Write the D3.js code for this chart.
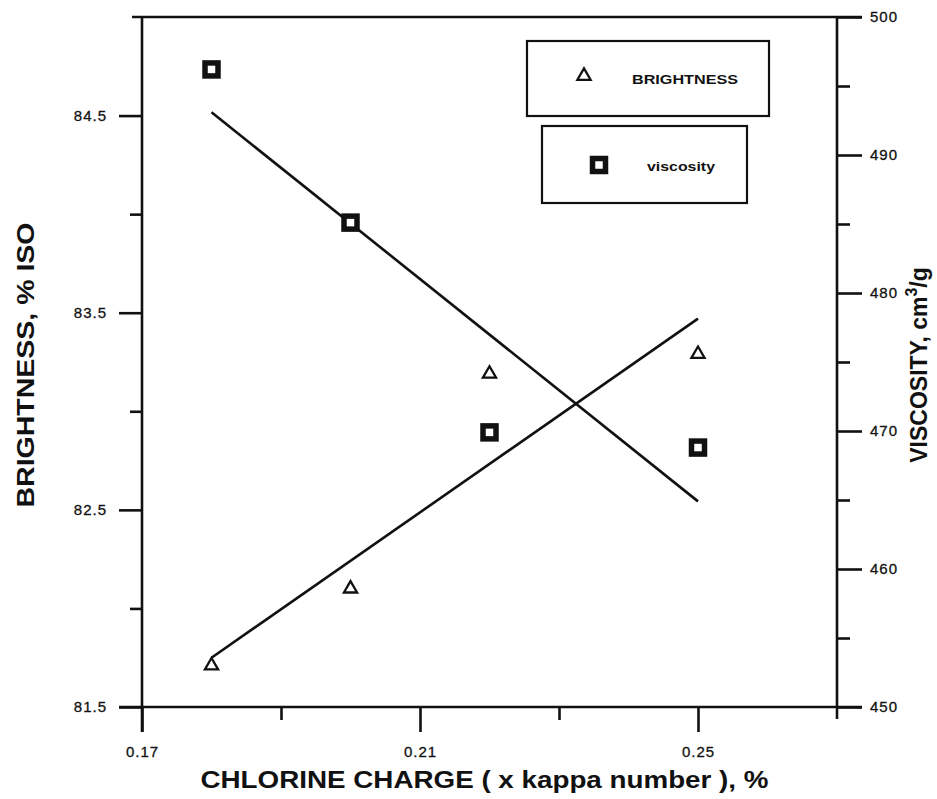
<!DOCTYPE html>
<html>
<head>
<meta charset="utf-8">
<script src="https://cdn.jsdelivr.net/npm/d3@7"></script>
<style>
  html, body { margin: 0; padding: 0; background: #fff; }
  svg { display: block; }
  text { font-family: "Liberation Sans", Arial, Helvetica, sans-serif; fill: #111; }
</style>
</head>
<body>
<svg id="chart" width="937" height="799"></svg>
<script>
// ---- data ----
const chlorineCharge = [0.18, 0.20, 0.22, 0.25];
const brightness = [81.71, 82.10, 83.19, 83.29];
const viscosity = [496.2, 485.1, 469.9, 468.8];
const fitX = [0.18, 0.25];
const brightnessFit = [81.75, 83.47];
const viscosityFit = [493.1, 464.9];
const xTickLabels = [0.17, 0.21, 0.25];
const xMinorTicks = [0.19, 0.23];
const leftTickLabels = [81.5, 82.5, 83.5, 84.5];
const leftMinorTicks = [82.0, 83.0, 84.0];
const rightTickLabels = [450, 460, 470, 480, 490, 500];
const rightMinorTicks = [455, 465, 475, 485, 495];

const svg = d3.select("#chart");
const L = 142, R = 837, T = 17, B = 707;
const x = d3.scaleLinear().domain([0.17, 0.27]).range([L, R]);
const yL = d3.scaleLinear().domain([81.5, 85]).range([B, T]);
const yR = d3.scaleLinear().domain([450, 500]).range([B, T]);

const ink = "#111";

// frame
const frame = svg.append("g").attr("stroke", ink).attr("stroke-width", 2.6).attr("fill", "none");
frame.append("line").attr("x1", L - 10).attr("x2", R + 25).attr("y1", T).attr("y2", T);
frame.append("line").attr("x1", L - 23).attr("x2", R + 25).attr("y1", B).attr("y2", B);
frame.append("line").attr("x1", L).attr("x2", L).attr("y1", T).attr("y2", B + 25);
frame.append("line").attr("x1", R).attr("x2", R).attr("y1", T).attr("y2", B + 12);

// left axis
const gL = svg.append("g").attr("transform", `translate(${L},0)`)
  .call(d3.axisLeft(yL).tickValues(leftTickLabels).tickFormat(d3.format(".1f")).tickSize(23).tickPadding(12));
const gLm = svg.append("g").attr("transform", `translate(${L},0)`)
  .call(d3.axisLeft(yL).tickValues(leftMinorTicks).tickFormat("").tickSize(12));

// right axis
const gR = svg.append("g").attr("transform", `translate(${R},0)`)
  .call(d3.axisRight(yR).tickValues(rightTickLabels).tickFormat(d3.format("d")).tickSize(25).tickPadding(8));
const gRm = svg.append("g").attr("transform", `translate(${R},0)`)
  .call(d3.axisRight(yR).tickValues(rightMinorTicks).tickFormat("").tickSize(13));

// bottom axis
const gB = svg.append("g").attr("transform", `translate(0,${B})`)
  .call(d3.axisBottom(x).tickValues(xTickLabels).tickFormat(d3.format(".2f")).tickSize(25).tickPadding(14));
const gBm = svg.append("g").attr("transform", `translate(0,${B})`)
  .call(d3.axisBottom(x).tickValues(xMinorTicks).tickFormat("").tickSize(13));

[gL, gLm, gR, gRm, gB, gBm].forEach(g => {
  g.select(".domain").remove();
  g.selectAll(".tick line").attr("stroke", ink).attr("stroke-width", 2.6);
  g.selectAll(".tick text").attr("fill", ink).style("font-size", "15px")
    .style("font-family", "'Liberation Sans', Arial, sans-serif").style("letter-spacing", "1px")
    .attr("stroke", ink).attr("stroke-width", 0.3);
});

// axis titles
svg.append("text")
  .attr("x", (L + R) / 2 - 5).attr("y", 788)
  .attr("text-anchor", "middle")
  .style("font-size", "24px").style("font-weight", "bold")
  .attr("textLength", 568).attr("lengthAdjust", "spacingAndGlyphs")
  .text("CHLORINE CHARGE ( x kappa number ), %");

svg.append("text")
  .attr("transform", `translate(34,${(T + B) / 2 + 3}) rotate(-90)`)
  .attr("text-anchor", "middle")
  .style("font-size", "23px").style("font-weight", "bold")
  .attr("textLength", 285).attr("lengthAdjust", "spacingAndGlyphs")
  .text("BRIGHTNESS, % ISO");

const rt = svg.append("text")
  .attr("transform", `translate(927,${(T + B) / 2 + 3}) rotate(-90)`)
  .attr("text-anchor", "middle")
  .style("font-size", "23px").style("font-weight", "bold");
rt.append("tspan").text("VISCOSITY, cm");
rt.append("tspan").attr("dy", -10).style("font-size", "16px").text("3");
rt.append("tspan").attr("dy", 10).text("/g");

// fit lines
const lineB = d3.line().x((d, i) => x(fitX[i])).y(d => yL(d));
const lineV = d3.line().x((d, i) => x(fitX[i])).y(d => yR(d));
svg.append("path").attr("d", lineB(brightnessFit)).attr("fill", "none").attr("stroke", ink).attr("stroke-width", 2.6);
svg.append("path").attr("d", lineV(viscosityFit)).attr("fill", "none").attr("stroke", ink).attr("stroke-width", 2.6);

// markers
const tri = d3.symbol().type(d3.symbolTriangle).size(75);
svg.append("g").selectAll("path").data(chlorineCharge).join("path")
  .attr("transform", (d, i) => `translate(${x(d)},${yL(brightness[i])})`)
  .attr("d", tri()).attr("fill", "#fff").attr("stroke", ink).attr("stroke-width", 2.3);

svg.append("g").selectAll("rect").data(chlorineCharge).join("rect")
  .attr("x", d => x(d) - 6.5).attr("y", (d, i) => yR(viscosity[i]) - 6.5)
  .attr("width", 13).attr("height", 13)
  .attr("fill", "#fff").attr("stroke", ink).attr("stroke-width", 5.5);

// legend
const lg = svg.append("g");
lg.append("rect").attr("x", 527).attr("y", 41).attr("width", 242).attr("height", 75)
  .attr("fill", "#fff").attr("stroke", ink).attr("stroke-width", 2.2);
lg.append("path").attr("transform", "translate(584,76)").attr("d", tri())
  .attr("fill", "#fff").attr("stroke", ink).attr("stroke-width", 2.3);
lg.append("text").attr("x", 632).attr("y", 84).style("font-size", "13px").style("font-weight", "bold")
  .attr("textLength", 106).attr("lengthAdjust", "spacingAndGlyphs").text("BRIGHTNESS");

lg.append("rect").attr("x", 542).attr("y", 126).attr("width", 205).attr("height", 77)
  .attr("fill", "#fff").attr("stroke", ink).attr("stroke-width", 2.2);
lg.append("rect").attr("x", 599 - 6.5).attr("y", 165 - 6.5).attr("width", 13).attr("height", 13)
  .attr("fill", "#fff").attr("stroke", ink).attr("stroke-width", 5.5);
lg.append("text").attr("x", 647).attr("y", 171).style("font-size", "13px").style("font-weight", "bold")
  .attr("textLength", 68).attr("lengthAdjust", "spacingAndGlyphs").text("viscosity");
</script>
</body>
</html>
